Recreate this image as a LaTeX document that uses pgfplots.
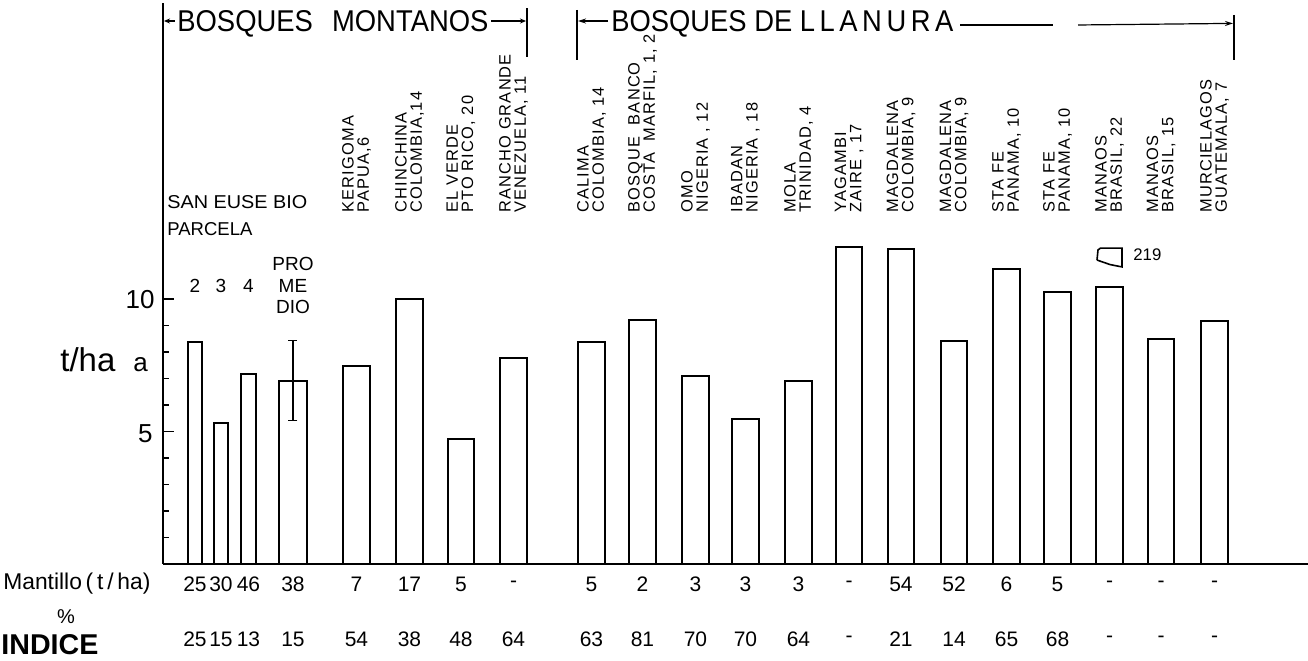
\documentclass[border=0pt]{standalone}
\usepackage{pgfplots}
\pgfplotsset{compat=1.18}
\usepackage{fontspec}
\setmainfont{Liberation Sans}
\newfontfamily\labfont[LetterSpace=7]{Liberation Sans}
\usetikzlibrary{arrows.meta}
\newlength\px \setlength\px{0.5pt}
\tikzset{
  rot/.style={rotate=90, anchor=west, align=left, inner sep=0pt,
    font={\labfont\fontsize{8.2pt}{7.6pt}\selectfont}},
  rowf/.style={inner sep=0pt, font={\fontsize{10.5pt}{11pt}\selectfont}},
}
\newcommand\rl[3]{\node[rot] at (axis cs:#1,13.25) {#2\\#3};}
\newcommand\row[3]{\node[rowf] at (axis cs:#1,-0.755) {#2};\node[rowf] at (axis cs:#1,-2.83) {#3};}
\begin{document}
\begin{tikzpicture}
\begin{axis}[
  x=0.5pt, y=13.25pt,
  xmin=163, xmax=1308, ymin=0, ymax=21.17,
  axis x line=bottom, axis y line=left,
  axis line style={-, line width=0.9pt},
  xtick=\empty,
  ytick={5,10}, minor ytick={1,2,3,4,6,7,8,9},
  yticklabels={},
  tick align=inside,
  major tick length=5.5pt, minor tick length=3pt,
  tick style={line width=0.8pt, black},
  clip=false,
]
% bars
\addplot[ybar, bar shift=0pt, bar width=14.5, draw=black, fill=white, line width=1pt]
  coordinates {(195,8.39) (221,5.31) (248.5,7.16)};
\addplot[ybar, bar shift=0pt, bar width=28, draw=black, fill=white, line width=1pt,
  error bars/.cd, y dir=both, y explicit,
  error bar style={line width=0.8pt},
  error mark options={line width=0.8pt, mark size=2.25pt, rotate=90}]
  coordinates {(293,6.92) +- (0,1.51)};
\addplot[ybar, bar shift=0pt, bar width=26.5, draw=black, fill=white, line width=1pt]
  coordinates {(356.5,7.48) (409.5,10.0) (461,4.70) (513.5,7.76)
  (591.5,8.39) (642.5,9.21) (695.5,7.11) (745.5,5.47) (798.5,6.92)
  (849,11.95) (901,11.87) (954,8.43) (1006.5,11.13) (1057.5,10.28)
  (1109.5,10.45) (1161,8.49) (1214.5,9.18)};
% broken top of Manaos bar
\addplot[black, line width=0.8pt] coordinates {(1097,11.47) (1098,11.85) (1100.5,11.92) (1122,11.92) (1122,11.21) (1110,11.30) (1097,11.47)};
\node[anchor=west, inner sep=0pt, font={\fontsize{10.5pt}{10.5pt}\selectfont}] at (axis cs:1133,11.66) {\resizebox{28\px}{!}{219}};

% y tick labels and axis label
\node[anchor=base east, inner sep=0pt, font={\fontsize{13pt}{13pt}\selectfont}] at (axis cs:155,9.66) {10};
\node[anchor=base east, inner sep=0pt, font={\fontsize{13pt}{13pt}\selectfont}] at (axis cs:153,4.60) {5};
\node[anchor=base west, inner sep=0pt, font={\fontsize{13pt}{13pt}\selectfont}] at (axis cs:60,7.25) {\resizebox{55\px}{!}{t/ha}};
\node[anchor=base west, inner sep=0pt, font={\fontsize{13pt}{13pt}\selectfont}] at (axis cs:133,7.25) {a};

% headers
\node[anchor=base west, inner sep=0pt] at (axis cs:177,20.11) {\resizebox{311\px}{21\px}{BOSQUES\hspace{0.7em}MONTANOS}};
\node[anchor=base west, inner sep=0pt] at (axis cs:611,20.11) {\resizebox{342\px}{21\px}{BOSQUES DE L\,L\,A\,N\,U\,R\,A}};
\draw[line width=0.6pt, -{Stealth[length=3pt,width=2.5pt]}] (axis cs:175,20.49) -- (axis cs:164,20.49);
\draw[line width=0.6pt, -{Stealth[length=3pt,width=2.5pt]}] (axis cs:491,20.49) -- (axis cs:526,20.49);
\draw[line width=0.8pt] (axis cs:527,20.98) -- (axis cs:527,19.13);
\draw[line width=0.8pt] (axis cs:577,20.91) -- (axis cs:577,19.02);
\draw[line width=0.6pt, -{Stealth[length=4pt,width=2.5pt]}] (axis cs:608,20.49) -- (axis cs:578,20.49);
\draw[line width=0.6pt] (axis cs:960,20.34) -- (axis cs:1053,20.34);
\draw[line width=0.6pt, -{Stealth[length=4pt,width=2.5pt]}] (axis cs:1078,20.34) -- (axis cs:1233,20.40);
\draw[line width=0.8pt] (axis cs:1234,20.72) -- (axis cs:1234,19.02);

% parcela labels
\node[anchor=base west, inner sep=0pt] at (axis cs:167,13.43) {\resizebox{140\px}{13\px}{SAN EUSE BIO}};
\node[anchor=base west, inner sep=0pt] at (axis cs:167,12.38) {\resizebox{85\px}{13\px}{PARCELA}};
\node[anchor=base, inner sep=0pt, font={\fontsize{9.5pt}{9.5pt}\selectfont}] at (axis cs:195,10.26) {2};
\node[anchor=base, inner sep=0pt, font={\fontsize{9.5pt}{9.5pt}\selectfont}] at (axis cs:221,10.26) {3};
\node[anchor=base, inner sep=0pt, font={\fontsize{9.5pt}{9.5pt}\selectfont}] at (axis cs:248.5,10.26) {4};
\node[anchor=base, inner sep=0pt, font={\fontsize{9.5pt}{9.5pt}\selectfont}] at (axis cs:293,11.09) {PRO};
\node[anchor=base, inner sep=0pt, font={\fontsize{9.5pt}{9.5pt}\selectfont}] at (axis cs:293,10.26) {ME};
\node[anchor=base, inner sep=0pt, font={\fontsize{9.5pt}{9.5pt}\selectfont}] at (axis cs:293,9.47) {DIO};

% rotated site labels
\rl{356.5}{KERIGOMA}{PAPUA,6}
\rl{409.5}{CHINCHINA}{COLOMBIA,14}
\rl{461}{EL VERDE}{PTO RICO, 20}
\rl{513.5}{RANCHO GRANDE}{VENEZUELA, 11}
\rl{591.5}{CALIMA}{COLOMBIA, 14}
\rl{642.5}{BOSQUE\ \ BANCO}{COSTA\ \ MARFIL, 1, 2}
\rl{695.5}{OMO}{NIGERIA , 12}
\rl{745.5}{IBADAN}{NIGERIA , 18}
\rl{798.5}{MOLA}{TRINIDAD, 4}
\rl{849}{YAGAMBI}{ZAIRE , 17}
\rl{901}{MAGDALENA}{COLOMBIA, 9}
\rl{954}{MAGDALENA}{COLOMBIA, 9}
\rl{1006.5}{STA FE}{PANAMA, 10}
\rl{1057.5}{STA FE}{PANAMA, 10}
\rl{1109.5}{MANAOS}{BRASIL, 22}
\rl{1161}{MANAOS}{BRASIL, 15}
\rl{1214.5}{MURCIELAGOS}{GUATEMALA, 7}

% bottom table
\node[anchor=west, inner sep=0pt, font={\fontsize{10.5pt}{11pt}\selectfont}] at (axis cs:3,-0.755) {\resizebox{147\px}{!}{Mantillo\,(\,t\,/\,ha)}};
\node[inner sep=0pt, font={\fontsize{10pt}{10pt}\selectfont}] at (axis cs:66,-2.0) {\%};
\node[anchor=base west, inner sep=0pt] at (axis cs:1,-3.43) {\resizebox{97\px}{20\px}{\bfseries INDICE}};
\row{195}{25}{25}
\row{221}{30}{15}
\row{248.5}{46}{13}
\row{293}{38}{15}
\row{356.5}{7}{54}
\row{409.5}{17}{38}
\row{461}{5}{48}
\row{513.5}{-}{64}
\row{591.5}{5}{63}
\row{642.5}{2}{81}
\row{695.5}{3}{70}
\row{745.5}{3}{70}
\row{798.5}{3}{64}
\row{849}{-}{-}
\row{901}{54}{21}
\row{954}{52}{14}
\row{1006.5}{6}{65}
\row{1057.5}{5}{68}
\row{1109.5}{-}{-}
\row{1161}{-}{-}
\row{1214.5}{-}{-}

\coordinate (BL) at (axis cs:0,-3.66);
\coordinate (TR) at (axis cs:1308,21.283);
\end{axis}
\pgfresetboundingbox
\path (BL) rectangle (TR);
\end{tikzpicture}
\end{document}
